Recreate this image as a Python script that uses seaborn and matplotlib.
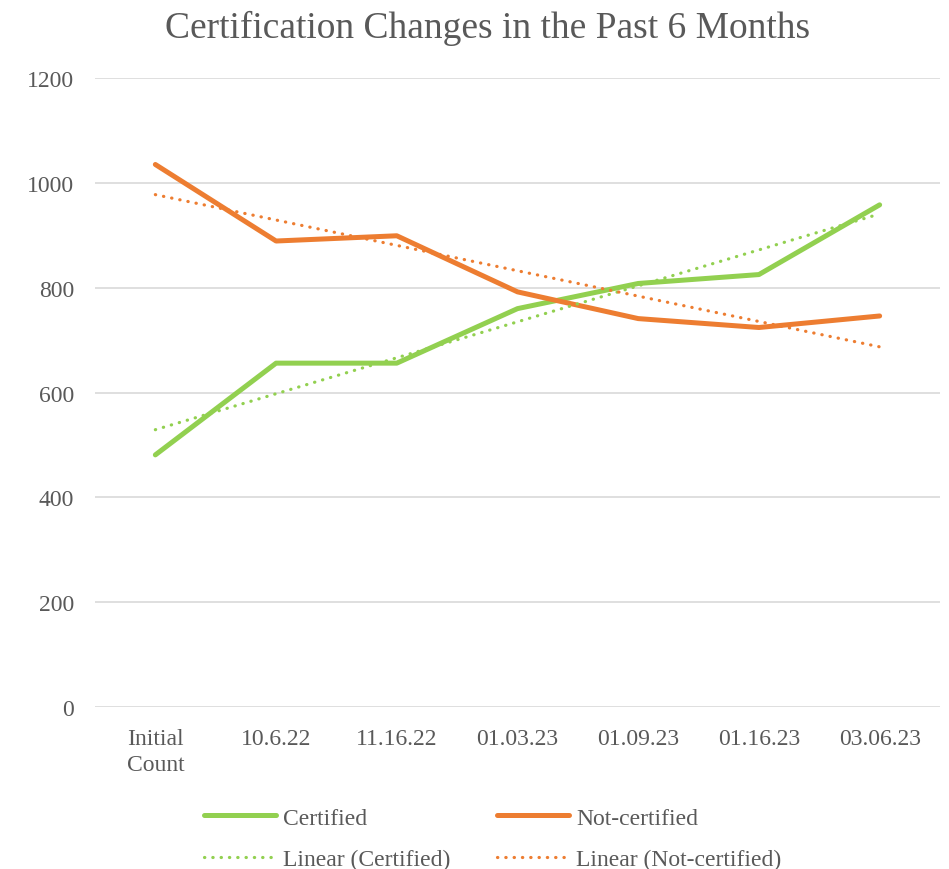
import numpy as np
import pandas as pd
import matplotlib
matplotlib.use("Agg")
import matplotlib.pyplot as plt
import seaborn as sns

fechas = ["Initial\nCount", "10.6.22", "11.16.22", "01.03.23", "01.09.23", "01.16.23", "03.06.23"]
certificados = [481, 656, 656, 760, 808, 825, 958]
no_certificados = [1035, 889, 899, 792, 741, 724, 746]

verde = "#92D050"
naranja = "#ED7D31"
gris = "#595959"

sns.set_theme(style="white")
plt.rcParams["font.family"] = ["Liberation Serif", "DejaVu Serif"]

pos = np.arange(len(fechas))
df = pd.DataFrame({"pos": pos, "Certified": certificados, "Not-certified": no_certificados})

# tendencias lineales (como en Excel)
tend_c = np.polyval(np.polyfit(pos + 1, certificados, 1), pos + 1)
tend_n = np.polyval(np.polyfit(pos + 1, no_certificados, 1), pos + 1)

fig = plt.figure(figsize=(9.49, 8.70), dpi=100)
ax = fig.add_axes([0.1001, 0.1862, 0.8904, 0.7230])

sns.lineplot(data=df, x="pos", y="Certified", ax=ax, color=verde, linewidth=3.6,
             solid_capstyle="round", solid_joinstyle="round", label="Certified")
sns.lineplot(data=df, x="pos", y="Not-certified", ax=ax, color=naranja, linewidth=3.6,
             solid_capstyle="round", solid_joinstyle="round", label="Not-certified")
sns.lineplot(x=pos, y=tend_c, ax=ax, color=verde, linewidth=2.3,
             dashes=False, label="Linear (Certified)")
sns.lineplot(x=pos, y=tend_n, ax=ax, color=naranja, linewidth=2.3,
             dashes=False, label="Linear (Not-certified)")
for ln in ax.lines[2:]:
    ln.set_linestyle((0, (0.1, 2.5)))
    ln.set_dash_capstyle("round")

ax.set_xlim(-0.5, len(fechas) - 0.5)
ax.set_ylim(0, 1200)
ax.set_yticks(range(0, 1201, 200))
ax.set_xticks(pos)
ax.set_xticklabels(fechas, linespacing=1.3)
ax.tick_params(axis="both", length=0, labelsize=17, labelcolor=gris)
ax.tick_params(axis="x", pad=15)
ax.tick_params(axis="y", pad=15)
ax.set_xlabel("")
ax.set_ylabel("")
ax.yaxis.grid(True, color="#D9D9D9", linewidth=1.2)
ax.set_axisbelow(True)
for s in ax.spines.values():
    s.set_visible(False)

fig.suptitle("Certification Changes in the Past 6 Months", fontsize=27, color=gris,
             x=0.514, y=0.987)

ax.get_legend().remove()
h, l = ax.get_legend_handles_labels()
orden = [0, 2, 1, 3]
fig.legend([h[i] for i in orden], [l[i] for i in orden], ncol=2, loc="center",
           bbox_to_anchor=(0.519, 0.035), frameon=False, fontsize=17,
           labelcolor=gris, handlelength=3.05, handletextpad=0.3, columnspacing=2.0,
           labelspacing=0.83)

fig.savefig("out.png", dpi=100)
